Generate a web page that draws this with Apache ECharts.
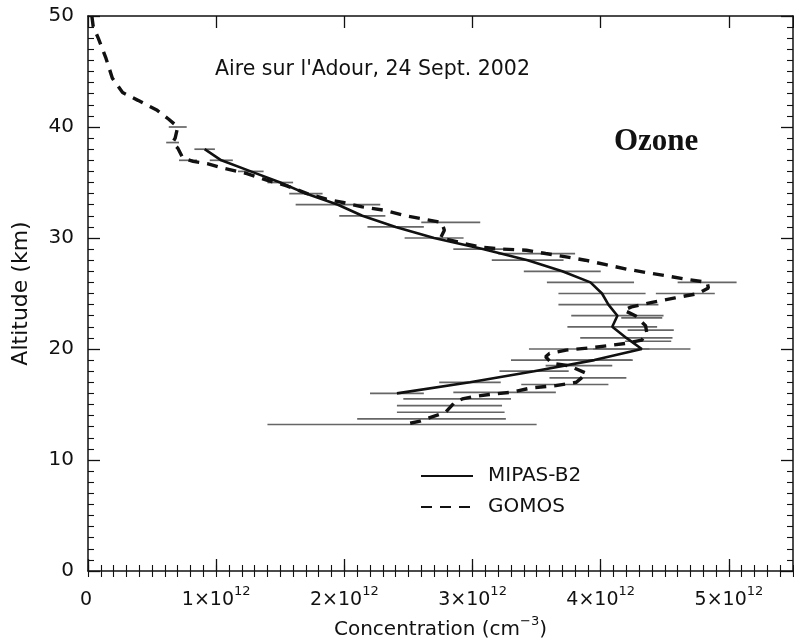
<!DOCTYPE html>
<html>
<head>
<meta charset="utf-8">
<script src="https://cdn.jsdelivr.net/npm/echarts@6/dist/echarts.min.js"></script>
<style>
html, body { margin: 0; padding: 0; background: #fff; }
#chart { width: 794px; height: 639px; }
</style>
</head>
<body>
<div id="chart"></div>
<script>
// concentrations in units of 1e12 cm^-3, altitudes in km
const mipasAlt  = [38, 37, 36, 35, 34, 33, 32, 31, 30, 29, 28, 27, 26, 25, 24, 23, 22, 21, 20, 19, 18, 17, 16]
const mipasConc = [0.91, 1.04, 1.27, 1.50, 1.70, 1.95, 2.14, 2.40, 2.70, 3.08, 3.43, 3.70, 3.92, 4.01, 4.06, 4.13, 4.09, 4.20, 4.32, 3.95, 3.48, 2.98, 2.41]
const mipasErr  = [0.08, 0.09, 0.10, 0.10, 0.13, 0.33, 0.18, 0.22, 0.23, 0.23, 0.28, 0.30, 0.34, 0.34, 0.39, 0.36, 0.35, 0.36, 0.38, 0.30, 0.27, 0.24, 0.21]

const gomosAlt  = [50.0, 49.1, 48.0, 46.2, 44.4, 43.1, 42.4, 41.5, 40.7, 40.0, 39.0, 38.6, 38.1, 37.2, 36.9, 36.7, 36.3, 35.8, 35.2, 34.7, 34.0, 33.5, 33.2, 32.8, 32.5, 32.0, 31.7, 31.4, 30.7, 30.0, 29.6, 29.2, 29.0, 28.9, 28.6, 28.3, 28.0, 27.6, 27.2, 26.9, 26.6, 26.3, 26.0, 25.5, 25.0, 24.6, 24.2, 23.8, 23.5, 23.0, 22.1, 21.4, 20.8, 20.5, 20.3, 20.1, 19.9, 19.6, 19.3, 18.7, 18.5, 17.8, 17.0, 16.7, 16.5, 16.1, 15.9, 15.7, 15.5, 15.2, 14.8, 14.3, 13.9, 13.5, 13.2]
const gomosConc = [0.03, 0.04, 0.08, 0.14, 0.19, 0.27, 0.39, 0.54, 0.63, 0.70, 0.68, 0.66, 0.70, 0.74, 0.82, 0.93, 1.05, 1.24, 1.40, 1.55, 1.71, 1.86, 1.99, 2.14, 2.31, 2.48, 2.62, 2.76, 2.78, 2.75, 2.90, 3.05, 3.23, 3.42, 3.57, 3.73, 3.88, 4.04, 4.20, 4.35, 4.51, 4.66, 4.83, 4.84, 4.76, 4.58, 4.40, 4.24, 4.18, 4.27, 4.35, 4.36, 4.32, 4.19, 4.06, 3.91, 3.73, 3.60, 3.57, 3.62, 3.75, 3.89, 3.81, 3.65, 3.46, 3.30, 3.13, 3.00, 2.92, 2.86, 2.83, 2.79, 2.69, 2.59, 2.47]

const gomosBarAlt  = [40.0, 38.6, 37.0, 31.4, 28.6, 26.0, 25.0, 22.8, 21.7, 20.7, 20.0, 19.0, 18.5, 17.4, 16.8, 16.1, 15.5, 14.9, 14.3, 13.7, 13.2]
const gomosBarConc = [0.70, 0.66, 0.78, 2.83, 3.50, 4.83, 4.66, 4.32, 4.39, 4.37, 3.91, 3.77, 3.83, 3.90, 3.72, 3.25, 2.88, 2.82, 2.83, 2.68, 2.45]
const gomosBarErr  = [0.07, 0.05, 0.07, 0.23, 0.30, 0.23, 0.23, 0.16, 0.18, 0.18, 0.47, 0.47, 0.26, 0.30, 0.34, 0.40, 0.42, 0.41, 0.42, 0.58, 1.05]

const xMajor = 1
const xMinor = 0.1
const yMajor = 10

const chart = echarts.init(document.getElementById('chart'))

function toPoints(alt, conc) {
  return alt.map((a, i) => [conc[i], a])
}

function toBars(alt, conc, err) {
  return alt.map((a, i) => [conc[i] - err[i], conc[i] + err[i], a])
}

function renderBar(params, api) {
  const p1 = api.coord([api.value(0), api.value(2)])
  const p2 = api.coord([api.value(1), api.value(2)])
  return {
    type: 'line',
    shape: { x1: p1[0], y1: p1[1], x2: p2[0], y2: p2[1] },
    style: { stroke: '#666', lineWidth: 1.7 }
  }
}

const font = 'DejaVu Sans, Verdana, sans-serif'
const black = '#111'

function xLabel(v) {
  if (Math.abs(v - Math.round(v)) > 1e-6) return ''
  if (v === 0) return '{a|0}{s| }'
  return '{a|' + v + '×10}{s|12}'
}

const labelRich = {
  a: { fontSize: 19, lineHeight: 20, verticalAlign: 'bottom', fontFamily: font, color: black },
  s: { fontSize: 13, lineHeight: 13, verticalAlign: 'bottom', padding: [0, 0, 12, 0], fontFamily: font, color: black }
}

const nameRich = {
  a: { fontSize: 20, lineHeight: 22, verticalAlign: 'bottom', fontFamily: font, color: black },
  s: { fontSize: 13, lineHeight: 13, verticalAlign: 'bottom', padding: [0, 0, 12, 0], fontFamily: font, color: black }
}

const majorTick = { show: true, inside: true, length: 12, lineStyle: { color: black, width: 1.3 } }
const minorTickX = { show: true, inside: true, length: 6, lineStyle: { color: black, width: 1.1 } }

const option = {
  animation: false,
  backgroundColor: '#fff',
  grid: { left: 88, right: 1, top: 16, bottom: 68, containLabel: false, outerBoundsMode: 'none' },
  legend: {
    orient: 'vertical',
    left: 415,
    top: 461,
    itemWidth: 52,
    itemHeight: 14,
    itemGap: 11,
    itemStyle: { opacity: 0 },
    textStyle: { fontSize: 20, lineHeight: 20, fontFamily: font, color: black, padding: [0, 0, 0, 10] },
    data: ['MIPAS-B2', 'GOMOS']
  },
  graphic: [
    {
      type: 'text',
      left: 215,
      top: 59,
      style: { text: "Aire sur l'Adour, 24 Sept. 2002", fontSize: 20.5, fontFamily: font, fill: black }
    },
    {
      type: 'text',
      left: 614,
      top: 126,
      style: { text: 'Ozone', fontSize: 31, fontWeight: 'bold', fontFamily: 'Liberation Serif, Times New Roman, serif', fill: black }
    }
  ],
  xAxis: [
    {
      type: 'value', min: 0, max: 5.5, interval: xMajor, position: 'bottom',
      axisLine: { show: true, onZero: false, lineStyle: { color: black, width: 1.5 } },
      axisTick: majorTick,
      splitLine: { show: false },
      axisLabel: { margin: 19, showMaxLabel: false, formatter: xLabel, rich: labelRich },
      name: '{a|Concentration (cm}{s|−3}{a|)}',
      nameLocation: 'middle',
      nameGap: 46,
      nameTextStyle: { rich: nameRich }
    },
    {
      type: 'value', min: 0, max: 5.5, interval: xMinor, position: 'bottom',
      axisLine: { show: false }, axisTick: minorTickX, axisLabel: { show: false }, splitLine: { show: false }
    },
    {
      type: 'value', min: 0, max: 5.5, interval: xMajor, position: 'top',
      axisLine: { show: true, onZero: false, lineStyle: { color: black, width: 1.5 } },
      axisTick: majorTick, axisLabel: { show: false }, splitLine: { show: false }
    },
    {
      type: 'value', min: 0, max: 5.5, interval: xMinor, position: 'top',
      axisLine: { show: false }, axisTick: minorTickX, axisLabel: { show: false }, splitLine: { show: false }
    }
  ],
  yAxis: [
    {
      type: 'value', min: 0, max: 50, interval: yMajor, position: 'left',
      axisLine: { show: true, onZero: false, lineStyle: { color: black, width: 1.5 } },
      axisTick: majorTick,
      minorTick: { show: true, splitNumber: 10, length: 6, lineStyle: { color: black, width: 1.1 } },
      splitLine: { show: false },
      minorSplitLine: { show: false },
      axisLabel: { margin: 14, fontSize: 20, fontFamily: font, color: black },
      name: 'Altitude (km)',
      nameLocation: 'middle',
      nameGap: 56,
      nameTextStyle: { fontSize: 22, fontFamily: font, color: black }
    },
    {
      type: 'value', min: 0, max: 50, interval: yMajor, position: 'right',
      axisLine: { show: true, onZero: false, lineStyle: { color: black, width: 1.5 } },
      axisTick: majorTick,
      minorTick: { show: true, splitNumber: 10, length: 6, lineStyle: { color: black, width: 1.1 } },
      splitLine: { show: false },
      minorSplitLine: { show: false },
      axisLabel: { show: false }
    }
  ],
  series: [
    {
      name: 'MIPAS-B2 error',
      type: 'custom',
      renderItem: renderBar,
      encode: { x: [0, 1], y: 2 },
      data: toBars(mipasAlt, mipasConc, mipasErr),
      z: 1
    },
    {
      name: 'GOMOS error',
      type: 'custom',
      renderItem: renderBar,
      encode: { x: [0, 1], y: 2 },
      data: toBars(gomosBarAlt, gomosBarConc, gomosBarErr),
      z: 1
    },
    {
      name: 'MIPAS-B2',
      type: 'line',
      data: toPoints(mipasAlt, mipasConc),
      symbol: 'none',
      lineStyle: { color: black, width: 2.6, type: 'solid' },
      itemStyle: { color: black },
      z: 3
    },
    {
      name: 'GOMOS',
      type: 'line',
      data: toPoints(gomosAlt, gomosConc),
      symbol: 'none',
      lineStyle: { color: black, width: 3.4, type: [11, 8] },
      itemStyle: { color: black },
      z: 3
    }
  ]
}

chart.setOption(option)
</script>
</body>
</html>
